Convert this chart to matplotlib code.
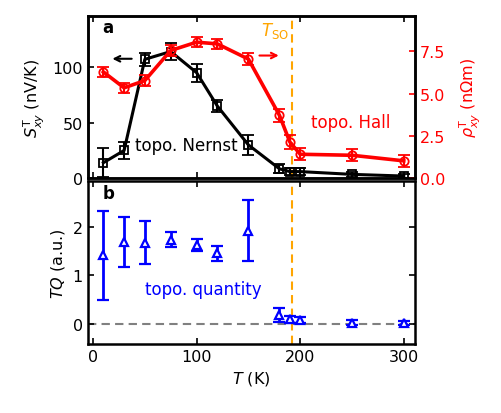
import matplotlib
matplotlib.use("Agg")
import matplotlib.pyplot as plt

T = [10, 30, 50, 75, 100, 120, 150, 180, 190, 200, 250, 300]
nernst = [14, 25, 107, 114, 95, 65, 30, 8.5, 6, 6, 3.5, 2]
nernst_err = [13, 8, 6, 7.5, 8, 5, 9, 4, 3, 3, 2, 2]
hall = [6.29, 5.35, 5.78, 7.56, 8.05, 7.95, 7.05, 3.72, 2.15, 1.42, 1.36, 1.03]
hall_err = [0.3, 0.3, 0.35, 0.35, 0.3, 0.3, 0.35, 0.4, 0.4, 0.35, 0.35, 0.35]
tq = [1.41, 1.68, 1.67, 1.73, 1.62, 1.45, 1.92, 0.19, 0.10, 0.09, 0.03, 0.02]
tq_err = [0.91, 0.51, 0.44, 0.15, 0.12, 0.15, 0.63, 0.14, 0.07, 0.07, 0.05, 0.04]
T_SO = 192

plt.rcParams['font.family'] = ['DejaVu Sans']
plt.rcParams['mathtext.fontset'] = 'dejavusans'
fs = 11.5
fst = 12

fig = plt.figure(figsize=(5.02, 4.14), dpi=100)
ax1 = fig.add_axes([0.175, 0.567, 0.652, 0.392])
ax2 = fig.add_axes([0.175, 0.167, 0.652, 0.393])
ax1r = ax1.twinx()

for a in (ax1, ax2, ax1r):
    for s in a.spines.values():
        s.set_linewidth(1.8)

ax1.errorbar(T, nernst, yerr=nernst_err, color='black', marker='s', mfc='none',
             ms=6, mew=1.3, lw=2.2, capsize=4, capthick=1.5, elinewidth=1.5, zorder=3)
ax1r.errorbar(T, hall, yerr=hall_err, color='red', marker='o', mfc='none',
              ms=6, mew=1.3, lw=2.6, capsize=4, capthick=1.5, elinewidth=1.5, zorder=3)
ax2.errorbar(T, tq, yerr=tq_err, color='blue', marker='^', mfc='white', ls='none',
             ms=5.5, mew=1.6, capsize=4.5, capthick=2, elinewidth=2, zorder=3)

ax1.set_xlim(-5, 311)
ax2.set_xlim(-5, 311)
ax1.set_ylim(0, 146)
ax1r.set_ylim(0, 9.6)
ax2.set_ylim(-0.4, 2.93)

ax1.axvline(T_SO, color='orange', ls='--', lw=1.5, dashes=(4, 2.5))
ax2.axvline(T_SO, color='orange', ls='--', lw=1.5, dashes=(4, 2.5))
ax2.axhline(0, color='gray', ls='--', lw=1.5, dashes=(4, 2.5), zorder=1)

ax1.set_xticks([0, 100, 200, 300])
ax1.set_xticklabels([])
ax1.set_yticks([0, 50, 100])
ax1r.set_yticks([0, 2.5, 5.0, 7.5])
ax2.set_xticks([0, 100, 200, 300])
ax2.set_yticks([0, 1, 2])

ax1.tick_params(axis='both', direction='in', top=True, right=False, labelsize=fs, length=4, width=1.2)
ax1r.tick_params(axis='y', direction='in', colors='red', labelsize=fs, length=4, width=1.2)
ax2.tick_params(axis='both', direction='in', top=True, right=True, labelsize=fs, length=4, width=1.2)

ax1.set_ylabel(r'$S_{xy}^{\mathrm{T}}$ (nV/K)', fontsize=fs)
ax1r.set_ylabel(r'$\rho_{xy}^{\mathrm{T}}$ (n$\Omega$m)', fontsize=fs, color='red', labelpad=9)
ax2.set_ylabel(r'$TQ$ (a.u.)', fontsize=fs)
ax2.set_xlabel(r'$T$ (K)', fontsize=fs)

ax1.text(0.045, 0.93, 'a', transform=ax1.transAxes, fontsize=fst, fontweight='bold', va='center')
ax2.text(0.045, 0.93, 'b', transform=ax2.transAxes, fontsize=fst, fontweight='bold', va='center')
ax1.text(T_SO - 3, 133, r'$T_{\mathrm{SO}}$', color='orange', fontsize=fst, ha='right', va='center')
ax1.text(41, 30, 'topo. Nernst', color='black', fontsize=fst, va='center')
ax1r.text(210, 3.3, 'topo. Hall', color='red', fontsize=fst, va='center')
ax2.text(50, 0.72, 'topo. quantity', color='blue', fontsize=fst, va='center')

ax1.annotate('', xy=(16, 107.5), xytext=(40, 107.5),
             arrowprops=dict(arrowstyle='->', color='black', lw=1.5))
ax1r.annotate('', xy=(182, 7.26), xytext=(158, 7.26),
              arrowprops=dict(arrowstyle='->', color='red', lw=1.5))

fig.savefig('out.png', dpi=100)
